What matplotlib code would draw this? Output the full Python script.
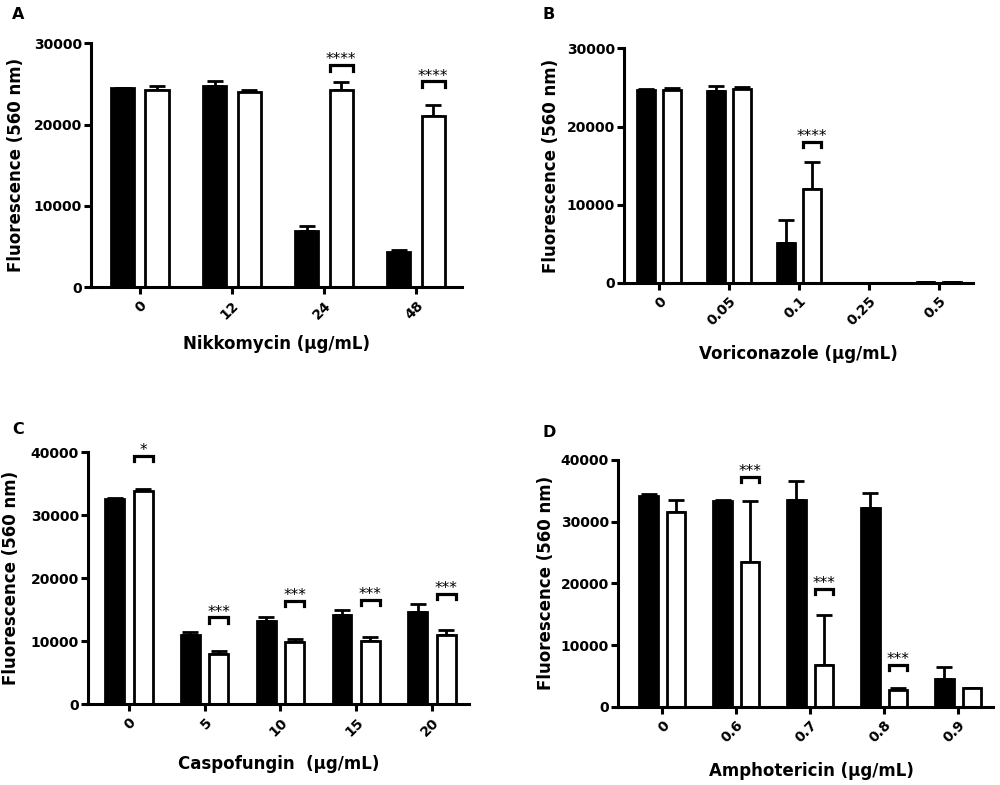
import numpy as np
import matplotlib
matplotlib.use("Agg")
import matplotlib.pyplot as plt
import matplotlib.transforms as mtrans

plt.rcParams['font.family'] = ['DejaVu Sans']
plt.rcParams['font.weight'] = 'bold'

# ---------------- data ----------------
A_cats = ['0', '12', '24', '48']
A_black = [24500, 24700, 6900, 4300]
A_black_err = [0, 600, 600, 300]
A_white = [24300, 24000, 24200, 21000]
A_white_err = [400, 200, 1000, 1400]
A_sig = ['', '', '****', '****']
A_sig_y = [0, 0, 27300, 25300]

B_cats = ['0', '0.05', '0.1', '0.25', '0.5']
B_black = [24700, 24500, 5050, 0, 150]
B_black_err = [100, 700, 2950, 0, 0]
B_white = [24700, 24800, 12050, 0, 150]
B_white_err = [200, 300, 3400, 0, 0]
B_sig = ['', '', '****', '', '']
B_sig_y = [0, 0, 18000, 0, 0]

C_cats = ['0', '5', '10', '15', '20']
C_black = [32600, 10900, 13200, 14200, 14650]
C_black_err = [200, 600, 600, 700, 1250]
C_white = [33900, 7900, 9900, 10050, 11000]
C_white_err = [200, 500, 400, 650, 750]
C_sig = ['*', '***', '***', '***', '***']
C_sig_y = [39400, 13800, 16400, 16600, 17500]

D_cats = ['0', '0.6', '0.7', '0.8', '0.9']
D_black = [34100, 33300, 33400, 32200, 4600]
D_black_err = [400, 200, 3100, 2400, 1900]
D_white = [31500, 23400, 6800, 2800, 3000]
D_white_err = [1900, 9900, 8000, 200, 100]
D_sig = ['', '***', '***', '***', '']
D_sig_y = [0, 37200, 19100, 6850, 0]

panels = [
    dict(letter='A', cats=A_cats, black=A_black, berr=A_black_err, white=A_white, werr=A_white_err,
         sig=A_sig, sigy=A_sig_y, xlabel='Nikkomycin (µg/mL)', ymax=30000,
         rect=[0.091, 0.634, 0.371, 0.311], xlim=(-0.53, 3.5), lpos=(0.012, 0.991),
         xl=(0.5, -0.197), yl=(-0.178, 0.5)),
    dict(letter='B', cats=B_cats, black=B_black, berr=B_black_err, white=B_white, werr=B_white_err,
         sig=B_sig, sigy=B_sig_y, xlabel='Voriconazole (µg/mL)', ymax=30000,
         rect=[0.624, 0.6395, 0.349, 0.299], xlim=(-0.5, 4.49), lpos=(0.543, 0.991),
         xl=(0.5, -0.264), yl=(-0.183, 0.5)),
    dict(letter='C', cats=C_cats, black=C_black, berr=C_black_err, white=C_white, werr=C_white_err,
         sig=C_sig, sigy=C_sig_y, xlabel='Caspofungin  (µg/mL)', ymax=40000,
         rect=[0.088, 0.103, 0.381, 0.321], xlim=(-0.54, 4.49), lpos=(0.012, 0.4624),
         xl=(0.5, -0.202), yl=(-0.178, 0.5)),
    dict(letter='D', cats=D_cats, black=D_black, berr=D_black_err, white=D_white, werr=D_white_err,
         sig=D_sig, sigy=D_sig_y, xlabel='Amphotericin (µg/mL)', ymax=40000,
         rect=[0.618, 0.0994, 0.375, 0.315], xlim=(-0.6, 4.47), lpos=(0.543, 0.4586),
         xl=(0.515, -0.223), yl=(-0.168, 0.5)),
]

fig = plt.figure(figsize=(10, 7.85), dpi=100)
LW = 2.0
W = 0.25
OFF = 0.187

for p in panels:
    ax = fig.add_axes(p['rect'])
    x = np.arange(len(p['cats']))
    xb = x - OFF
    xw = x + OFF
    ax.errorbar(xb, p['black'], yerr=[np.zeros(len(x)), p['berr']], fmt='none', ecolor='black',
                elinewidth=LW, capsize=6, capthick=LW, zorder=1)
    ax.errorbar(xw, p['white'], yerr=[np.zeros(len(x)), p['werr']], fmt='none', ecolor='black',
                elinewidth=LW, capsize=6, capthick=LW, zorder=1)
    ax.bar(xb, p['black'], width=W, color='black', edgecolor='black', linewidth=LW, zorder=2)
    ax.bar(xw, p['white'], width=W, color='white', edgecolor='black', linewidth=LW, zorder=2)

    ymax = p['ymax']
    leg = 0.022 * ymax
    for xi, s, sy in zip(xw, p['sig'], p['sigy']):
        if not s:
            continue
        x0, x1 = xi - W / 2, xi + W / 2
        ax.plot([x0, x0, x1, x1], [sy - leg, sy, sy, sy - leg], color='black', lw=2.3,
                solid_joinstyle='miter', clip_on=False, zorder=3)
        ax.annotate(s, xy=(xi, sy), xytext=(0, 0.5), textcoords='offset points',
                    ha='center', va='baseline', fontsize=11, fontweight='normal',
                    annotation_clip=False)

    ax.set_xlim(*p['xlim'])
    ax.set_ylim(0, ymax)
    ax.set_yticks(np.arange(0, ymax + 1, 10000))
    ax.set_yticklabels([str(int(v)) for v in np.arange(0, ymax + 1, 10000)])
    ax.set_xticks(x)
    ax.set_xticklabels(p['cats'], rotation=45, ha='right', va='top', rotation_mode='anchor')
    shift = mtrans.ScaledTranslation(2 / 72, 0, fig.dpi_scale_trans)
    for lab in ax.get_xticklabels():
        lab.set_transform(lab.get_transform() + shift)
    for sp in ['top', 'right']:
        ax.spines[sp].set_visible(False)
    for sp in ['left', 'bottom']:
        ax.spines[sp].set_linewidth(2.2)
    ax.tick_params(axis='both', which='major', length=5, width=2.2, labelsize=10)
    ax.tick_params(axis='y', pad=1.5)
    ax.tick_params(axis='x', pad=3)
    ax.set_ylabel('Fluorescence (560 nm)', fontsize=12, fontweight='bold')
    ax.set_xlabel(p['xlabel'], fontsize=12, fontweight='bold')
    ax.xaxis.set_label_coords(*p['xl'])
    ax.yaxis.set_label_coords(*p['yl'])
    fig.text(p['lpos'][0], p['lpos'][1], p['letter'], fontsize=11.5, fontweight='bold',
             ha='left', va='top')

fig.savefig('out.png', dpi=100)
